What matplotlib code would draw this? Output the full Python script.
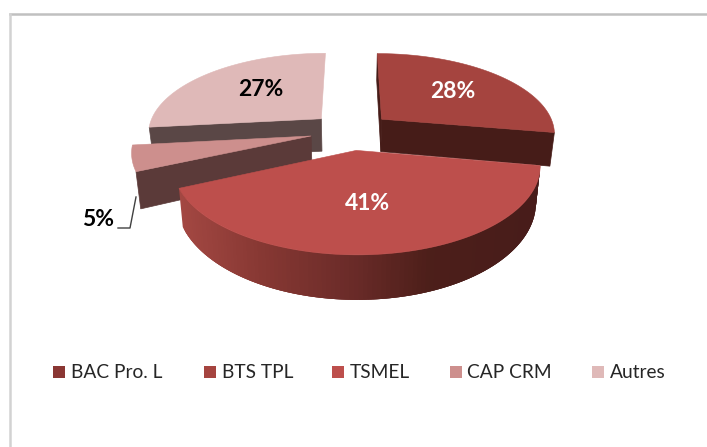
import numpy as np
import matplotlib
matplotlib.use("Agg")
import matplotlib.pyplot as plt
from matplotlib.patches import Polygon, Rectangle

plt.rcParams['font.family'] = ['Lato', 'DejaVu Sans']

categories = ['BAC Pro. L', 'BTS TPL', 'TSMEL', 'CAP CRM', 'Autres']
values = [0, 28, 41, 5, 27]
top_colors = ['#8a3633', '#a5443f', '#bd4f4c', '#cd8f8d', '#dfb9b8']
wall_colors = ['#3a1512', '#461c18', '#4a1d1a', '#5b3a39', '#5a4746']
label_colors = ['white', 'white', 'white', 'black', 'black']
legend_box_x = [53, 204, 332, 450, 592]
legend_text_x = [71, 222, 350, 467, 610]

# projection of the tilted pie
cx, cy = 351, 131
rx, ry = 174, 80
persp = 0.165
explode = 0.235
depth = 33.5


def project(x, y):
    s = 1 / (1 + persp * y)
    return cx + rx * x * s, cy - ry * y * s, s


def bottom(px, py, s):
    return cx + (px - cx) * 0.978, py + depth * s ** 1.3


def slice_points(a0, a1, n=120):
    mid = (a0 + a1) / 2
    ox, oy = explode * np.sin(mid), explode * np.cos(mid)
    t = np.linspace(a0, a1, n)
    rim_x, rim_y, rim_s = project(ox + np.sin(t), oy + np.cos(t))
    ap_x, ap_y, ap_s = project(ox, oy)
    return (ap_x, ap_y, ap_s), rim_x, rim_y, rim_s


def rim_color(x):
    # shading along the front wall, lighter on the left
    stops = [180, 260, 350, 430, 540]
    rgb = [(0.64, 0.28, 0.26), (0.53, 0.22, 0.20), (0.42, 0.17, 0.16), (0.30, 0.12, 0.10), (0.28, 0.11, 0.10)]
    return [np.interp(x, stops, [c[i] for c in rgb]) for i in range(3)]


fig = plt.figure(figsize=(7.07, 4.47), dpi=100)
ax = fig.add_axes([0, 0, 1, 1])
ax.set_xlim(0, 707)
ax.set_ylim(447, 0)
ax.axis('off')

# chart frame (only top and left are in the crop)
ax.plot([10, 707], [14, 14], color='#c0c0c0', lw=1.8)
ax.plot([10, 10], [14, 447], color='#d2d2d2', lw=1.8)

total = sum(values)
edges = np.cumsum([0] + values) / total * 2 * np.pi

# back to front: Autres, BTS TPL, CAP CRM, TSMEL
for i in [4, 1, 3, 2]:
    a0, a1 = edges[i], edges[i + 1]
    (ap_x, ap_y, ap_s), rim_x, rim_y, rim_s = slice_points(a0, a1)
    bx, by = bottom(rim_x, rim_y, rim_s)
    apb_x, apb_y = bottom(ap_x, ap_y, ap_s)

    # flat walls seen from the front
    if i == 1:
        ax.add_patch(Polygon([(ap_x, ap_y), (rim_x[-1], rim_y[-1]), (bx[-1], by[-1]), (apb_x, apb_y)],
                             fc=wall_colors[i], ec=wall_colors[i], lw=0.5))
        ax.add_patch(Polygon([(ap_x, ap_y), (rim_x[0], rim_y[0]), (bx[0], by[0]), (apb_x, apb_y)],
                             fc=wall_colors[i], ec=wall_colors[i], lw=0.5))
    if i == 3 or i == 4:
        ax.add_patch(Polygon([(ap_x, ap_y), (rim_x[0], rim_y[0]), (bx[0], by[0]), (apb_x, apb_y)],
                             fc=wall_colors[i], ec=wall_colors[i], lw=0.5))

    # curved outer wall, quads overlap so no seams show
    if i == 2:
        for j in range(len(rim_x) - 1, 0, -1):
            k = max(j - 3, 0)
            c = rim_color((rim_x[j] + rim_x[j - 1]) / 2)
            ax.add_patch(Polygon([(rim_x[k], rim_y[k]), (rim_x[j], rim_y[j]),
                                  (bx[j], by[j]), (bx[k], by[k])],
                                 fc=c, ec='none'))

    # top surface
    pts = [(ap_x, ap_y)] + list(zip(rim_x, rim_y))
    ax.add_patch(Polygon(pts, fc=top_colors[i], ec=top_colors[i], lw=0.4))

# data labels
label_pos = [None, (453, 92), (367, 203), (98, 220), (261, 89)]
for i in range(1, 5):
    ax.text(label_pos[i][0], label_pos[i][1], f"{values[i]}%", color=label_colors[i],
            fontsize=16.5, fontweight='bold', ha='center', va='center')

# leader line of the small slice
ax.plot([136, 130, 118], [197, 228, 228], color='#404040', lw=1)

# legend
for i, name in enumerate(categories):
    ax.add_patch(Rectangle((legend_box_x[i], 366), 12, 12, fc=top_colors[i], ec='none'))
    ax.text(legend_text_x[i], 372.5, name, color='#262626', fontsize=13.8, ha='left', va='center')

fig.savefig('out.png', dpi=100)
